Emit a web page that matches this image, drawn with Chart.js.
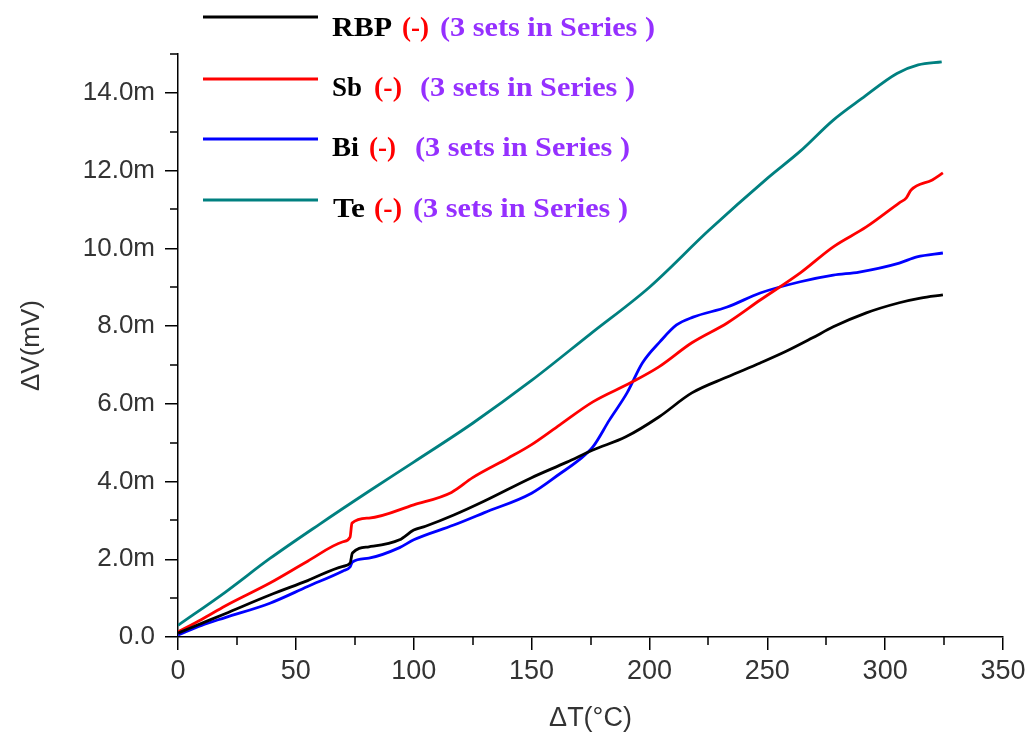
<!DOCTYPE html>
<html>
<head>
<meta charset="utf-8">
<script src="https://cdn.jsdelivr.net/npm/chart.js@4.4.1/dist/chart.umd.min.js"></script>
<style>
  html, body { margin: 0; padding: 0; background: #fff; }
  canvas { display: block; }
</style>
</head>
<body>
<canvas id="myChart" width="1032" height="740"></canvas>
<script>
// ΔT in °C, ΔV in mV (3 sets in series for every material)
const rbpT = [0, 10, 20, 39, 55, 70, 73, 74, 81, 94, 100, 105, 117, 130, 150, 165, 176, 190, 204, 218, 233, 247, 258, 269, 278, 292, 306, 315, 324.5];
const rbpV = [0.1, 0.35, 0.6, 1.08, 1.45, 1.82, 1.9, 2.16, 2.32, 2.5, 2.75, 2.85, 3.14, 3.5, 4.1, 4.5, 4.81, 5.15, 5.66, 6.28, 6.69, 7.05, 7.35, 7.69, 7.98, 8.34, 8.6, 8.72, 8.8];

const sbT = [0, 10, 20, 39, 55, 70, 73, 73.8, 81, 100, 116, 125, 140, 150, 162, 176, 192, 204, 218, 233, 247, 264, 278, 292, 306, 309, 311, 320, 324.5];
const sbV = [0.13, 0.45, 0.8, 1.39, 1.95, 2.45, 2.57, 2.93, 3.06, 3.4, 3.72, 4.1, 4.6, 4.95, 5.46, 6.05, 6.54, 6.95, 7.57, 8.08, 8.67, 9.37, 10.04, 10.55, 11.17, 11.3, 11.5, 11.76, 11.94];

const biT = [0, 10, 20, 39, 55, 70, 73, 74, 81, 94, 100, 117, 130, 150, 162, 170, 176, 183, 190.5, 197, 204.5, 211.5, 218.5, 233, 247, 264, 278, 289, 306, 313.5, 324.5];
const biV = [0.05, 0.3, 0.5, 0.87, 1.3, 1.7, 1.8, 1.93, 2.03, 2.3, 2.5, 2.88, 3.2, 3.7, 4.2, 4.55, 4.89, 5.58, 6.28, 7.05, 7.6, 8.03, 8.23, 8.49, 8.85, 9.14, 9.31, 9.39, 9.62, 9.78, 9.88];

const teT = [0, 20, 39, 60, 81, 100, 125, 150, 175, 200, 225, 250, 264, 278, 290, 305, 314, 324];
const teV = [0.3, 1.15, 2.02, 2.9, 3.75, 4.5, 5.5, 6.6, 7.8, 9.0, 10.45, 11.8, 12.5, 13.3, 13.85, 14.5, 14.72, 14.8];

const seriesNames = ['RBP', 'Sb', 'Bi', 'Te'];
const seriesColors = ['#000000', '#ff0000', '#0000ff', '#008080'];
const seriesNote = '(3 sets in Series )';

const xTicks = [0, 50, 100, 150, 200, 250, 300, 350];
const yTicks = [0, 2, 4, 6, 8, 10, 12, 14];

function toPoints(xs, ys) {
  return xs.map((x, i) => ({ x: x, y: ys[i] }));
}

// text squeezed/stretched to a given width
function fitText(ctx, text, x, y, width, color) {
  const w = ctx.measureText(text).width;
  ctx.save();
  ctx.translate(x, y);
  ctx.scale(width / w, 1);
  ctx.fillStyle = color;
  ctx.fillText(text, 0, 0);
  ctx.restore();
}

const legendRows = [
  { lineY: 17,  textY: 29,  name: [332, 60], dash: [402, 27], note: [440, 215] },
  { lineY: 79,  textY: 89,  name: [332, 30], dash: [374, 28], note: [420, 215] },
  { lineY: 139, textY: 149, name: [332, 27], dash: [369, 27], note: [415, 215] },
  { lineY: 200, textY: 210, name: [333, 32], dash: [374, 28], note: [413, 215] }
];

const richLegend = {
  id: 'richLegend',
  afterDraw(chart) {
    const ctx = chart.ctx;
    ctx.save();
    ctx.font = 'bold 27px "Liberation Serif", "Times New Roman", serif';
    ctx.textBaseline = 'middle';
    ctx.textAlign = 'left';
    legendRows.forEach((row, i) => {
      ctx.strokeStyle = seriesColors[i];
      ctx.lineWidth = 3;
      ctx.beginPath();
      ctx.moveTo(203, row.lineY);
      ctx.lineTo(318, row.lineY);
      ctx.stroke();
      fitText(ctx, seriesNames[i], row.name[0], row.textY, row.name[1], '#000');
      fitText(ctx, '(-)', row.dash[0], row.textY, row.dash[1], '#ff0000');
      fitText(ctx, seriesNote, row.note[0], row.textY, row.note[1], '#9530ff');
    });
    ctx.restore();
  }
};

// short ticks between the labelled ones
const minorTicks = {
  id: 'minorTicks',
  afterDraw(chart) {
    const ctx = chart.ctx;
    const xs = chart.scales.x, ys = chart.scales.y;
    ctx.save();
    ctx.strokeStyle = '#000';
    ctx.lineWidth = 1.5;
    ctx.beginPath();
    for (let v = 25; v < 350; v += 50) {
      const px = Math.round(xs.getPixelForValue(v));
      ctx.moveTo(px, xs.top);
      ctx.lineTo(px, xs.top + 8);
    }
    for (let v = 1; v <= 15; v += 2) {
      const py = Math.round(ys.getPixelForValue(v));
      ctx.moveTo(ys.right, py);
      ctx.lineTo(ys.right - 8, py);
    }
    ctx.stroke();
    ctx.restore();
  }
};

const datasets = [
  [rbpT, rbpV], [sbT, sbV], [biT, biV], [teT, teV]
].map((s, i) => ({
  label: seriesNames[i],
  data: toPoints(s[0], s[1]),
  borderColor: seriesColors[i],
  backgroundColor: seriesColors[i],
  borderWidth: 2.8,
  pointRadius: 0,
  cubicInterpolationMode: 'monotone',
  fill: false
}));

const canvas = document.getElementById('myChart');
const ctx = canvas.getContext('2d');
const myChart = new Chart(ctx, {
  type: 'line',
  data: { datasets: datasets },
  plugins: [richLegend, minorTicks],
  options: {
    responsive: false,
    animation: false,
    layout: { padding: { top: 54, right: 29, left: 0, bottom: 0 } },
    plugins: {
      legend: { display: false },
      tooltip: { enabled: false }
    },
    scales: {
      x: {
        type: 'linear',
        min: 0,
        max: 350,
        afterBuildTicks: (scale) => { scale.ticks = xTicks.map(v => ({ value: v })); },
        afterFit: (scale) => { scale.height = 103; },
        border: { display: true, color: '#000', width: 1.5 },
        grid: { drawOnChartArea: false, drawTicks: true, tickLength: 13, color: '#000', lineWidth: 1.5 },
        ticks: {
          color: '#333',
          padding: 5,
          maxRotation: 0,
          font: { family: '"Liberation Sans", Arial, sans-serif', size: 27 }
        },
        title: {
          display: true,
          text: 'ΔT(°C)',
          color: '#333',
          padding: { top: 0, bottom: 5 },
          font: { family: '"Liberation Sans", Arial, sans-serif', size: 27 }
        }
      },
      y: {
        type: 'linear',
        min: 0,
        max: 15,
        afterBuildTicks: (scale) => { scale.ticks = yTicks.map(v => ({ value: v })); },
        afterFit: (scale) => { scale.width = 178; },
        border: { display: true, color: '#000', width: 1.5 },
        grid: { drawOnChartArea: false, drawTicks: true, tickLength: 13, color: '#000', lineWidth: 1.5 },
        ticks: {
          color: '#333',
          padding: 10,
          font: { family: '"Liberation Sans", Arial, sans-serif', size: 26 },
          callback: (v) => v === 0 ? '0.0' : v.toFixed(1) + 'm'
        },
        title: {
          display: true,
          text: 'ΔV(mV)',
          color: '#333',
          padding: { top: 16, bottom: 0 },
          font: { family: '"Liberation Sans", Arial, sans-serif', size: 26 }
        }
      }
    }
  }
});
myChart.update();
</script>
</body>
</html>
